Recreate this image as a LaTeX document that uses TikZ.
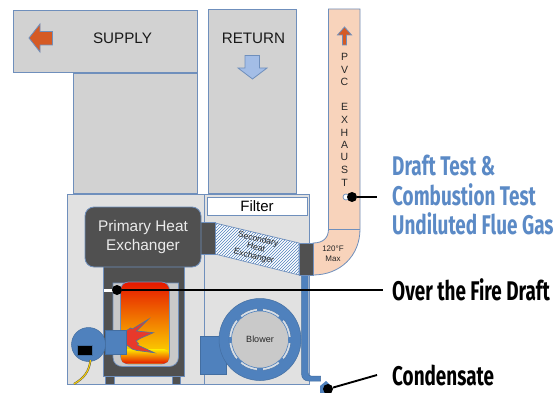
\documentclass[tikz,border=0pt]{standalone}
\usepackage{fontspec}
\setmainfont{Liberation Sans}
\newfontfamily\condfont[FakeStretch=0.70]{Fira Sans}
\usetikzlibrary{patterns,shadings}
\definecolor{edgeblue}{HTML}{6F8FBC}
\definecolor{midblue}{HTML}{4F81BD}
\definecolor{duct}{HTML}{D2D2D2}
\definecolor{cab}{HTML}{E1E1E1}
\definecolor{darkfill}{HTML}{505050}
\definecolor{peach}{HTML}{F8D3BB}
\definecolor{arroworange}{HTML}{D55A24}
\definecolor{retblue}{HTML}{A3BDE6}
\definecolor{labelblue}{HTML}{5B8AC6}
\definecolor{innergray}{HTML}{C9C9C9}
\definecolor{flamered}{HTML}{E8392B}
\tikzset{
  x=1pt,y=-1pt,
  duct box/.style={draw=edgeblue,line width=0.9pt,fill=duct},
  cab box/.style={draw=edgeblue,line width=0.9pt,fill=cab},
  dark box/.style={draw=edgeblue,line width=0.5pt,fill=darkfill},
  pipe/.style={draw=edgeblue,line width=0.8pt,fill=peach},
  blue part/.style={draw=midblue!85!black,line width=0.5pt,fill=midblue},
  leader/.style={draw=black,line width=1.9pt},
  leader dot/.style={circle,fill=black,inner sep=0pt,minimum size=10pt},
  callout/.style={font=\condfont\bfseries\fontsize{27}{29.5}\selectfont,anchor=west,align=left,inner sep=0pt},
  letter/.style={font=\fontsize{10.5}{10.5}\selectfont,inner sep=0pt,text=black!85},
  duct text/.style={font=\fontsize{15.2}{17}\selectfont,inner sep=0pt,text=black!90}
}
\begin{document}
\begin{tikzpicture}
\useasboundingbox (0,0) rectangle (557,393);
\fill[white] (0,0) rectangle (557,393);
% ducts
\fill[duct box] (73,73) rectangle (197,193);
\fill[duct box] (13,10) rectangle (197,72.5);
\fill[duct box] (208.5,9) rectangle (296,193);
\node[duct text] (supply) at (122.5,38.5) {SUPPLY};
\node[duct text] (return) at (253.5,38.5) {RETURN};
\fill[draw=edgeblue,line width=0.8pt,fill=arroworange] (29,38)--(40,24)--(40,31.5)--(52.5,31.5)--(52.5,45)--(40,45)--(40,52)--cycle;
\fill[draw=edgeblue,line width=0.8pt,fill=retblue] (245,55.5)--(259.5,55.5)--(259.5,68)--(267,68)--(252.5,79)--(238,68)--(245,68)--cycle;
% cabinet
\fill[cab box] (67.5,194) rectangle (204.5,384);
\fill[cab box] (204.5,194) rectangle (309,384);
\node[draw=edgeblue,line width=0.9pt,fill=white,minimum width=100pt,minimum height=18pt,inner sep=0pt,font=\fontsize{15}{17}\selectfont] (filter) at (257,206) {Filter};
% drain
\fill[blue part] (301.5,274) -- (308,274) -- (308,372) .. controls (308,375) and (309,376) .. (311,376) -- (320.5,376) -- (320.5,381) -- (309,381) .. controls (304,381) and (301.5,378) .. (301.5,373) -- cycle;
% exhaust
\fill[pipe] (328.5,9) -- (360,9) -- (360,229) .. controls (360,256) and (340,275) .. (313,275) -- (313,243) .. controls (323,243) and (328.5,238) .. (328.5,229) -- cycle;
\draw[edgeblue,line width=0.8pt] (328.5,229) -- (360,229);
\node[letter,font=\fontsize{8}{9.5}\selectfont,align=center] (max) at (333,253.5) {120°F\\Max};
\fill[draw=edgeblue,line width=0.8pt,fill=arroworange] (344.5,27)--(351.5,35)--(346.5,35)--(346.5,45)--(342.5,45)--(342.5,35)--(337.5,35)--cycle;
\foreach \ch/\yy/\nm in {P/57/a,V/69.5/b,C/82/c,E/107/d,X/120/e,H/132.5/f,A/145/g,U/157/h,S/170/i,T/183/j}
  \node[letter] (pvc\nm) at (344.5,\yy) {\ch};
% secondary heat exchanger
\fill[white] (215,223) -- (299,243) -- (299,275) -- (215,254) -- cycle;
\fill[pattern=north east lines,pattern color=midblue] (215,223) -- (299,243) -- (299,275) -- (215,254) -- cycle;
\draw[edgeblue,line width=0.7pt] (215,223) -- (299,243) -- (299,275) -- (215,254) -- cycle;
\node[rotate=-14,font=\fontsize{8.6}{8.8}\selectfont,align=center,inner sep=0pt,text=black!85] (secondary) at (256,248) {Secondary\\Heat\\Exchanger};
\fill[dark box] (200,222) rectangle (215,254);
\fill[dark box] (299.5,243) rectangle (313,275);
% primary
\fill[dark box] (103,260) rectangle (184,376);
\fill[dark box] (105.5,376) rectangle (114,384);
\fill[dark box] (172,376) rectangle (180.5,384);
\node[draw=edgeblue,line width=0.8pt,fill=darkfill,rounded corners=9pt,minimum width=116pt,minimum height=60pt,inner sep=0pt,align=center,text=white!92!black,font=\fontsize{15.4}{18.5}\selectfont] (primary) at (143,237) {Primary Heat\\Exchanger};
% combustion chamber
\fill[draw=edgeblue,line width=0.7pt,fill=innergray] (113,283) -- (178.5,283) -- (178.5,357) .. controls (178.5,363) and (174,366.5) .. (169,366.5) -- (123,366.5) .. controls (117,366.5) and (113,363) .. (113,357) -- cycle;
\fill[white] (103.5,289) rectangle (113,292);
\shade[top color=red!80!orange!90!black,middle color=orange!85!yellow,bottom color=yellow!85!orange,rounded corners=8pt,draw=edgeblue,line width=0.7pt] (120.5,282) rectangle (169.5,364);
\shade[top color=yellow!85!orange,bottom color=red!80!orange!90!black,rounded corners=5pt] (121,349) -- (169,349) -- (169,363.5) -- (121,363.5) -- cycle;
% flame
\fill[draw=edgeblue!80!black,line width=0.7pt,fill=flamered] (125.7,331) -- (130.7,328) -- (132.3,329) -- (148.3,319.3) -- (136.5,331) -- (141,331.5) -- (153.3,332.7) -- (140,338.5) -- (136,341) -- (138.5,343.5) -- (137.5,345) -- (154.3,352.7) -- (137,350.5) -- (132,349) -- (129,346.5) -- (125.7,344.3) -- cycle;
% burner
\fill[blue part] (105,330) rectangle (126,354);
\node[circle,draw=midblue!85!black,line width=0.5pt,fill=midblue,minimum size=34pt,inner sep=0pt] (burner) at (88.5,344.5) {};
\node[draw=midblue!85!black,line width=0.3pt,fill=black,minimum width=15pt,minimum height=10.5pt,inner sep=0pt] (control) at (85,350) {};
\draw[black!70!yellow,line width=2pt] (90.5,360) .. controls (89,372) and (84,378) .. (74,384);
\draw[yellow!70!orange,line width=1pt] (90.5,360) .. controls (89,372) and (84,378) .. (74,384);
% blower
\fill[blue part] (200,336) rectangle (226,374.5);
\node[circle,blue part,minimum size=82pt,inner sep=0pt] (housing) at (260,339.5) {};
\node[circle,draw=midblue!85!black,fill=white!70!midblue!40!cab,line width=0.4pt,minimum size=62pt,inner sep=0pt] (gap) at (260,339.5) {};
\foreach \a in {0,45,...,315}
  \fill[midblue,rotate around={\a:(260,339.5)}] (257,308) rectangle (263,312);
\node[circle,draw=midblue,fill=innergray,line width=0.6pt,minimum size=57pt,inner sep=0pt,font=\fontsize{9}{10}\selectfont,text=black!85] (blower) at (260,339.5) {Blower};
% test points
\node[circle,draw=edgeblue,fill=white,line width=0.7pt,minimum size=6pt,inner sep=0pt] (port) at (346,197) {};
\node[leader dot] (dotdraft) at (352,197) {};
\node[leader dot] (dotfire) at (117,290) {};
\fill[midblue] (320,386) -- (326,381) -- (331,386) -- (331,393) -- (320,393) -- cycle;
\node[leader dot] (dotcond) at (328,389) {};
% callouts
\node[callout,text=labelblue] (drafttext) at (392,195) {Draft Test \&\\Combustion Test\\Undiluted Flue Gas};
\node[callout] (firetext) at (392,290) {Over the Fire Draft};
\node[callout] (condtext) at (392,375) {Condensate};
\coordinate (enddraft) at (377,197);
\coordinate (endfire) at (383,290);
\coordinate (endcond) at (377,375);
\draw[leader] (dotdraft) -- (enddraft);
\draw[leader] (dotfire) -- (endfire);
\draw[leader] (dotcond) -- (endcond);
\end{tikzpicture}
\end{document}
